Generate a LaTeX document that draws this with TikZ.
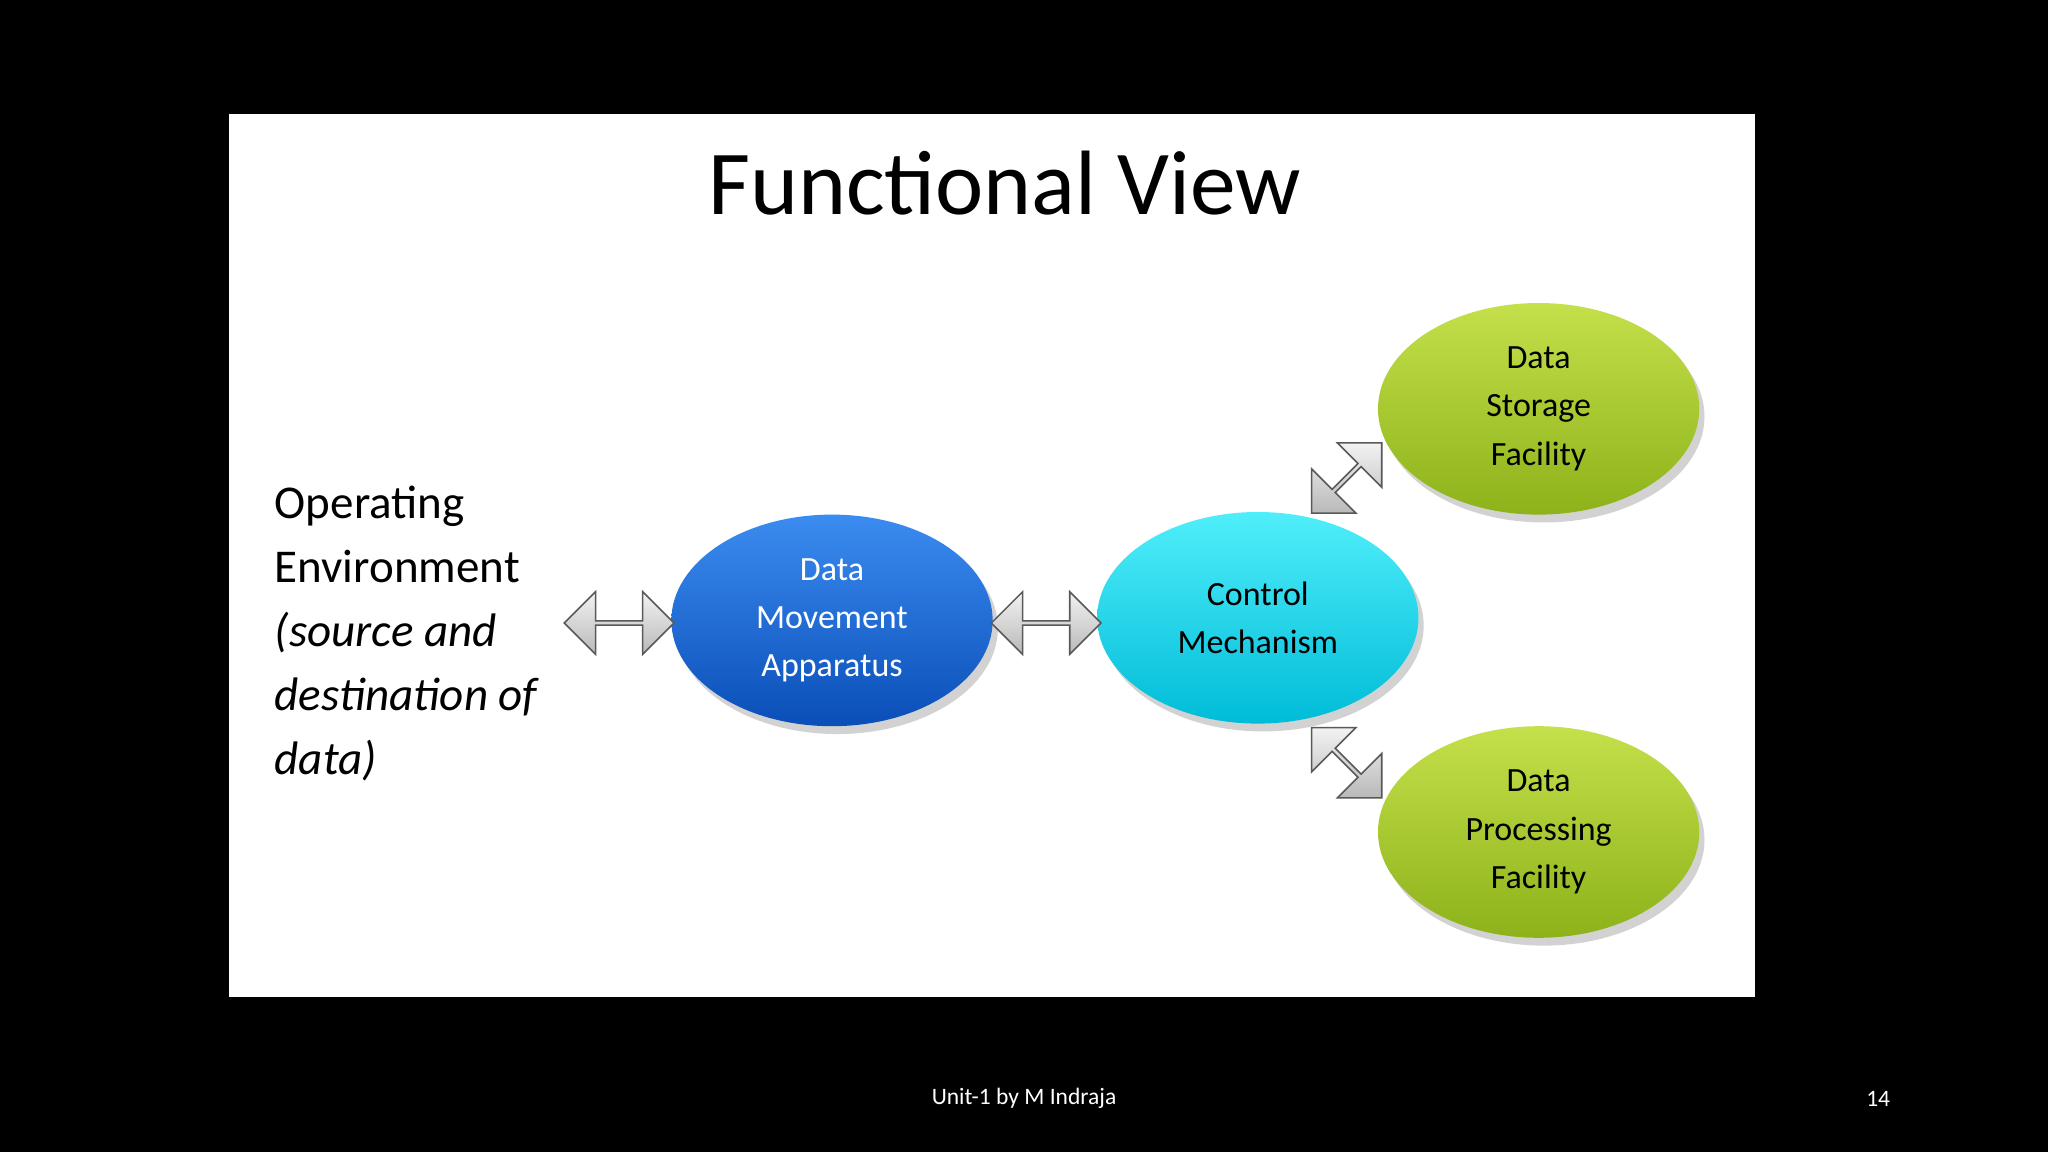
\documentclass[tikz,border=0pt]{standalone}
\usepackage{fontspec}
\setmainfont{Carlito}
\usetikzlibrary{shapes.geometric,shapes.arrows,shadows}
\definecolor{bluedark}{HTML}{0A4EB8}
\definecolor{bluelight}{HTML}{3B8CF0}
\definecolor{cyandark}{HTML}{00BCD8}
\definecolor{cyanlight}{HTML}{50EEFA}
\definecolor{greendark}{HTML}{8DB21A}
\definecolor{greenlight}{HTML}{C4E04A}
\tikzset{
  blob/.style={ellipse, minimum width=123pt, minimum height=81pt, inner sep=0pt, align=center, font=\fontsize{13}{18.5}\selectfont, drop shadow={opacity=0.35,shadow xshift=2pt,shadow yshift=-3pt}},
  darr/.style={double arrow, double arrow head extend=4pt, minimum height=42pt, minimum width=24pt, inner sep=0pt, top color=gray!10, bottom color=gray!55, draw=gray!70!black, line width=0.6pt}
}
\begin{document}
\begin{tikzpicture}[x=0.5pt,y=-0.5pt]
\fill[black] (0,0) rectangle (1568,882);
\fill[white] (175,87) rectangle (1344,763);
\useasboundingbox (0,0) rectangle (1568,882);
\node (title) at (769,140) {\fontsize{35}{40}\selectfont Functional View};
\node[blob, top color=bluelight, bottom color=bluedark, text=white] (dma) at (637,475) {Data\\Movement\\Apparatus};
\node[blob, top color=cyanlight, bottom color=cyandark] (cm) at (963,473) {Control\\Mechanism};
\node[blob, top color=greenlight, bottom color=greendark] (dsf) at (1178,313) {Data\\Storage\\Facility};
\node[blob, top color=greenlight, bottom color=greendark] (dpf) at (1178,637) {Data\\Processing\\Facility};
\node[anchor=north west, align=left, font=\fontsize{18}{24.5}\selectfont, inner sep=0pt] (oe) at (210,372) {Operating\\Environment\\\textit{(source and}\\\textit{destination of}\\\textit{data)}};
\node[darr] (a1) at (474,477) {};
\node[darr] (a2) at (801,477) {};
\node[darr, minimum height=38pt, rotate=45] (a3) at (1031,366) {};
\node[darr, minimum height=38pt, rotate=-45] (a4) at (1031,584) {};
\node[text=white, font=\fontsize{9}{11}\selectfont] (foot) at (784,841) {Unit-1 by M Indraja};
\node[text=white, font=\fontsize{9}{11}\selectfont] (num) at (1438,841) {14};
\end{tikzpicture}
\end{document}
